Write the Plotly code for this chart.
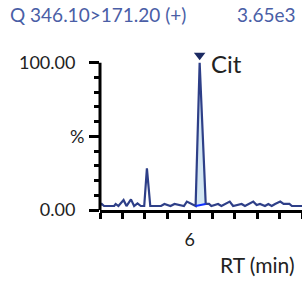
import plotly.graph_objects as go

rt = [5.596, 5.608, 5.618, 5.663, 5.670, 5.682, 5.705, 5.718, 5.738, 5.752, 5.767, 5.782,
      5.797, 5.809, 5.824, 5.872, 5.887, 5.914, 5.932, 5.974, 5.987, 6.026, 6.044, 6.071,
      6.086, 6.096, 6.126, 6.141, 6.178, 6.193, 6.231, 6.246, 6.283, 6.298, 6.313, 6.335,
      6.350, 6.365, 6.380, 6.403, 6.418, 6.444, 6.455, 6.5]
intensity = [2.7, 4.1, 2.7, 2.7, 4.1, 2.7, 6.8, 2.7, 7.2, 2.7, 4.5, 2.7,
             2.7, 28.3, 2.7, 2.7, 4.1, 2.7, 4.1, 2.7, 5.7, 2.7, 100.0, 4.1,
             4.1, 2.7, 4.1, 2.7, 5.7, 2.7, 4.1, 2.7, 5.7, 3.4, 4.1, 2.7,
             4.1, 2.7, 4.1, 5.7, 4.1, 4.1, 2.7, 2.7]

peak_rt = [6.026, 6.044, 6.071]
peak_int = [2.7, 100.0, 4.1]
peak_name = "Cit"
marker_level = 105

x_tickvals = [5.6, 5.7, 5.8, 5.9, 6.0, 6.1, 6.2, 6.3, 6.4, 6.5]
x_ticktext = ["", "", "", "", "6", "", "", "", "", ""]
y_tickvals = [0, 50, 100]
y_ticktext = ["0.00", "", "100.00"]
y_unit = "%"
y_minor = [10, 20, 30, 40, 60, 70, 80, 90]

title_left = "Q 346.10>171.20 (+)"
title_right = "3.65e3"
x_title = "RT (min)"

FONT = "Lato"
NAVY = "#2e3f88"
TXT = "#222222"
BLUE_TXT = "#4a5ea6"

fig = go.Figure()

# filled integrated peak area
fig.add_trace(go.Scatter(x=peak_rt + [peak_rt[0]], y=peak_int + [peak_int[0]],
                         mode="lines", fill="toself", fillcolor="#d3e6f3",
                         line=dict(color="rgba(0,0,0,0)", width=0), showlegend=False, hoverinfo="skip"))

# chromatogram line
fig.add_trace(go.Scatter(x=rt, y=intensity, mode="lines", line=dict(color=NAVY, width=2.2),
                         showlegend=False, hoverinfo="skip"))

# baseline of integrated peak
fig.add_trace(go.Scatter(x=[peak_rt[0], peak_rt[-1]], y=[peak_int[0], peak_int[-1]], mode="lines",
                         line=dict(color="#1030ff", width=2), showlegend=False, hoverinfo="skip"))

# apex marker
fig.add_trace(go.Scatter(x=[peak_rt[1]], y=[marker_level], mode="markers",
                         marker=dict(symbol="triangle-down", size=10, color="#1b2a62"),
                         cliponaxis=False, showlegend=False, hoverinfo="skip"))

fig.add_annotation(x=peak_rt[1], y=marker_level, xref="x", yref="y", text=peak_name, showarrow=False,
                   xanchor="left", yanchor="middle", xshift=9, yshift=-8,
                   font=dict(family=FONT, size=24, color=TXT))

# y axis line (stops at 100 %)
fig.add_shape(type="line", xref="paper", yref="y", x0=0, x1=0, y0=0, y1=100,
              line=dict(color="black", width=3), layer="above")

# y unit label
fig.add_annotation(x=0, y=50, xref="paper", yref="y", text=y_unit, showarrow=False,
                   xanchor="right", yanchor="middle", xshift=-14, yshift=0,
                   font=dict(family=FONT, size=18, color=TXT))

fig.add_annotation(x=0, y=1, xref="paper", yref="paper", text=title_left, showarrow=False,
                   xanchor="left", yanchor="middle", xshift=-92, yshift=34,
                   font=dict(family=FONT, size=19, color=BLUE_TXT))
fig.add_annotation(x=1, y=1, xref="paper", yref="paper", text=title_right, showarrow=False,
                   xanchor="right", yanchor="middle", xshift=-4, yshift=34,
                   font=dict(family=FONT, size=19, color=BLUE_TXT))
fig.add_annotation(x=1, y=0, xref="paper", yref="paper", text=x_title, showarrow=False,
                   xanchor="right", yanchor="middle", xshift=-5, yshift=-54,
                   font=dict(family=FONT, size=21, color=TXT))

fig.update_xaxes(range=[5.6, 6.5], tickvals=x_tickvals, ticktext=x_ticktext,
                 showgrid=False, zeroline=False, showline=True, linecolor="black", linewidth=3,
                 ticks="outside", ticklen=6, tickwidth=3, tickcolor="black",
                 tickfont=dict(family=FONT, size=18, color=TXT), ticklabelstandoff=5)
fig.update_yaxes(range=[0, 110], tickvals=y_tickvals, ticktext=y_ticktext,
                 showgrid=False, zeroline=False, showline=False,
                 ticks="outside", ticklen=10, tickwidth=3, tickcolor="black",
                 minor=dict(tickvals=y_minor, ticks="outside", ticklen=5,
                            tickwidth=3, tickcolor="black", showgrid=False),
                 tickfont=dict(family=FONT, size=18, color=TXT), ticklabelstandoff=10)

fig.update_layout(width=302, height=282, margin=dict(l=100, r=0, t=48, b=72),
                  paper_bgcolor="white", plot_bgcolor="white", showlegend=False)

fig.write_html("out.html", config={"displayModeBar": False},
               post_script="document.body.style.margin='0';")
